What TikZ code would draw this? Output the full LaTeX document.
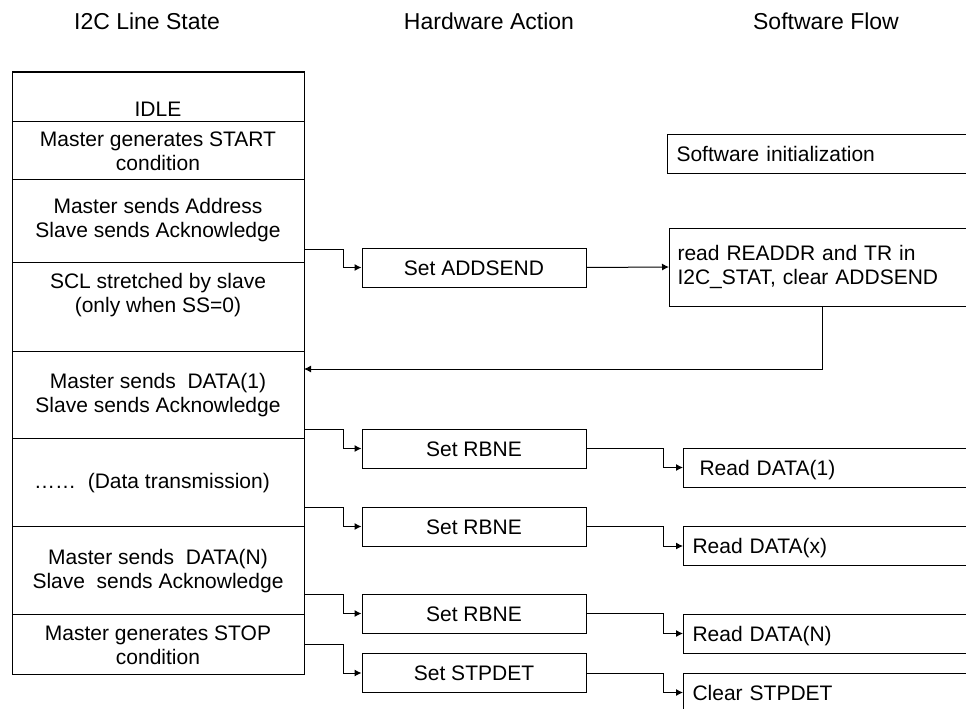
\documentclass[tikz,border=0pt]{standalone}
\usepackage{fontspec}
\setmainfont{Liberation Sans}
\usetikzlibrary{arrows.meta}
\begin{document}
\begin{tikzpicture}[x=1pt,y=-1pt,
  every node/.style={font=\fontsize{21}{24}\selectfont},
  row/.style={draw, line width=1pt, rectangle, inner sep=0pt, minimum width=292pt},
  hwbox/.style={draw, line width=1pt, inner sep=0pt, minimum width=224pt, minimum height=39pt, text height=15pt, text depth=0pt},
  swbox/.style={draw, line width=1pt, anchor=west, text width=320pt, inner xsep=9pt, inner ysep=0pt, align=left, minimum height=39pt},
  oneline/.style={text height=15pt, text depth=0pt},
  lbl/.style={align=center, inner sep=0pt},
  hdr/.style={inner sep=0pt, font=\fontsize{23}{27}\selectfont},
  conn/.style={line width=1pt, -{Latex[length=7pt,width=7pt]}}
]
\useasboundingbox (0,0) rectangle (966,709);
\clip (0,0) rectangle (966,709);

% headers
\node[hdr] (h1) at (147,21) {I2C Line State};
\node[hdr] (h2) at (489,21) {Hardware Action};
\node[hdr] (h3) at (826,21) {Software Flow};

% left column rows
\node[row, minimum height=49pt] (idle) at (158,96.5) {};
\node[row, minimum height=58pt] (start) at (158,150) {};
\node[row, minimum height=83pt] (addr) at (158,220.5) {};
\node[row, minimum height=89pt] (scl) at (158,306.5) {};
\node[row, minimum height=87pt] (d1) at (158,394.5) {};
\node[row, minimum height=88pt] (dt) at (158,482) {};
\node[row, minimum height=88pt] (dn) at (158,570) {};
\node[row, minimum height=60pt] (stop) at (158,644) {};

\node[lbl] (tidle) at (158,109) {IDLE};
\node[lbl] (tstart) at (158,151.5) {Master generates START\\condition};
\node[lbl] (taddr) at (158,220.5) {Master sends Address\\Slave sends Acknowledge};
\node[lbl] (tscl) at (158,295) {SCL stretched by slave\\(only when SS=0)};
\node[lbl] (td1) at (158,395) {Master sends\ \ DATA(1)\\Slave sends Acknowledge};
\node[lbl] (tdt) at (152,483) {……\ \ (Data transmission)};
\node[lbl] (tdn) at (158,571.5) {Master sends\ \ DATA(N)\\Slave\ \ sends Acknowledge};
\node[lbl] (tstop) at (158,645) {Master generates STOP\\condition};

% hardware boxes
\node[hwbox] (hw1) at (474,267.5) {Set ADDSEND};
\node[hwbox] (hw2) at (474,448.5) {Set RBNE};
\node[hwbox] (hw3) at (474,526.5) {Set RBNE};
\node[hwbox] (hw4) at (474,613.5) {Set RBNE};
\node[hwbox] (hw5) at (474,673) {Set STPDET};

% software boxes
\node[swbox, oneline] (init) at (667,153.5) {Software initialization};
\node[swbox, minimum height=78pt, inner xsep=8pt] (read) at (669,267) {read READDR and TR in\\I2C\_STAT, clear ADDSEND};
\node[swbox, oneline] (sw1) at (683,467.5) {\ Read DATA(1)};
\node[swbox, oneline] (sw2) at (683,546) {Read DATA(x)};
\node[swbox, oneline] (sw3) at (683,633.5) {Read DATA(N)};
\node[swbox, oneline] (sw4) at (683,692.5) {Clear STPDET};

% start points on the column edge
\coordinate (s1) at (304,249);
\coordinate (s2) at (304,429);
\coordinate (s3) at (304,507);
\coordinate (s4) at (304,594);
\coordinate (s5) at (304,644);
\coordinate (ret) at (304,369);

\draw[conn] (s1) -- ++(39,0) |- (hw1.west);
\draw[conn] (s2) -- ++(39,0) |- (hw2.west);
\draw[conn] (s3) -- ++(39,0) |- (hw3.west);
\draw[conn] (s4) -- ++(39,0) |- (hw4.west);
\draw[conn] (s5) -- ++(39,0) |- (hw5.west);

\draw[conn] (hw1.east) -- (read.west);
\draw[conn] ([xshift=153pt]read.south west) |- (ret);

\draw[conn] (hw2.east) -- ++(77,0) |- (sw1.west);
\draw[conn] (hw3.east) -- ++(77,0) |- (sw2.west);
\draw[conn] (hw4.east) -- ++(77,0) |- (sw3.west);
\draw[conn] (hw5.east) -- ++(77,0) |- (sw4.west);
\end{tikzpicture}
\end{document}
